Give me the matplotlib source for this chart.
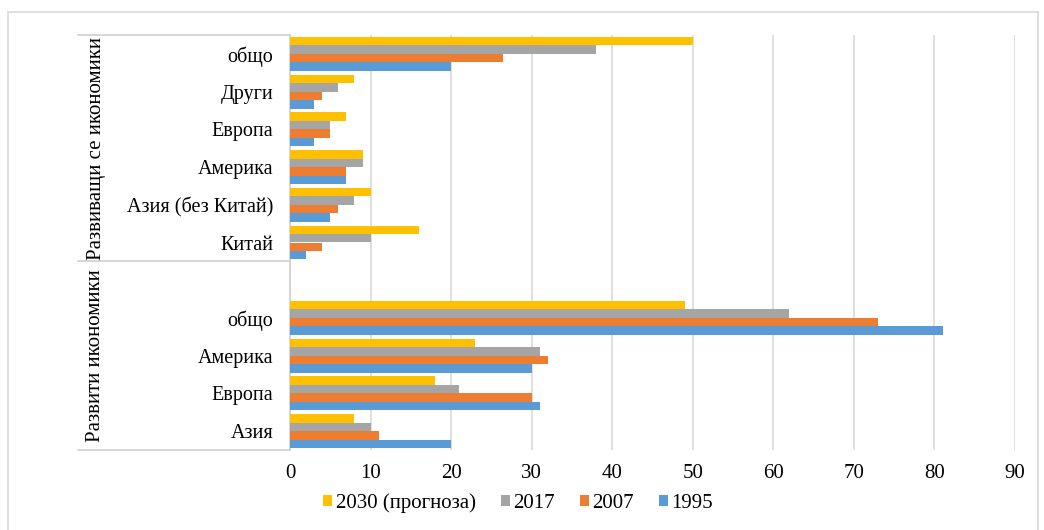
import matplotlib
matplotlib.use('Agg')
import matplotlib.pyplot as plt
from matplotlib.patches import Rectangle
from matplotlib.lines import Line2D

plt.rcParams['font.family'] = ['Liberation Serif', 'DejaVu Serif']

# categories, top to bottom ('' = empty slot)
categories = ['общо', 'Други', 'Европа', 'Америка', 'Азия (без Китай)', 'Китай',
              '', 'общо', 'Америка', 'Европа', 'Азия']
groups = ['Развиващи се икономики', 'Развити икономики']
series = ['2030 (прогноза)', '2017', '2007', '1995']

v2030 = [50, 8, 7, 9, 10, 16, None, 49, 23, 18, 8]
v2017 = [38, 6, 5, 9, 8, 10, None, 62, 31, 21, 10]
v2007 = [26.5, 4, 5, 7, 6, 4, None, 73, 32, 30, 11]
v1995 = [20, 3, 3, 7, 5, 2, None, 81, 30, 31, 20]
colors = ['#FFC000', '#A5A5A5', '#ED7D31', '#5B9BD5']

W, H = 1044, 530
fig = plt.figure(figsize=(W / 100, H / 100), dpi=100)
ax = fig.add_axes([290 / W, 1 - 450 / H, 725 / W, 415 / H])

h = 0.225
for k, (vals, col, name) in enumerate(zip([v2030, v2017, v2007, v1995], colors, series)):
    ys = [i + (k - 1.5) * h for i, v in enumerate(vals) if v is not None]
    xs = [v for v in vals if v is not None]
    ax.barh(ys, xs, height=h, color=col, label=name, zorder=3)

ax.set_ylim(10.5, -0.5)
ax.set_xlim(0, 90)
ax.set_xticks(range(0, 91, 10))
ax.set_yticks(range(len(categories)))
ax.set_yticklabels(categories, fontsize=14.5)
ax.tick_params(axis='y', length=0, pad=12)
ax.tick_params(axis='x', length=0, pad=10, labelsize=15)
ax.grid(axis='x', color='#d9d9d9', linewidth=1.2, zorder=0)
for s in ['top', 'right', 'bottom']:
    ax.spines[s].set_visible(False)
ax.spines['left'].set_color('#d0d0d0')
ax.spines['left'].set_linewidth(1.2)

# group separators and labels
x0 = (78 - 290) / 725
tr = ax.get_yaxis_transform()
for y in [-0.5, 5.5, 10.5]:
    ax.add_line(Line2D([x0, 0], [y, y], transform=tr, color='#d0d0d0', lw=1.2, clip_on=False))
xg = (96 - 290) / 725
ax.text(xg, 2.5, groups[0], transform=tr, rotation=90, ha='center', va='center', fontsize=15)
ax.text(xg, 8.0, groups[1], transform=tr, rotation=90, ha='center', va='center', fontsize=15)

leg = fig.legend(loc='center', bbox_to_anchor=(518 / W, 1 - 503 / H), ncol=4, frameon=False,
                 fontsize=15, handlelength=0.45, handleheight=0.45, handletextpad=0.15,
                 columnspacing=1.2)

# outer chart border
fig.patches.append(Rectangle((8 / W, -0.05), (1038 - 8) / W, 1.05 - 12 / H,
                             transform=fig.transFigure, fill=False,
                             edgecolor='#d9d9d9', lw=1.2))

fig.savefig('out.png', dpi=100)
